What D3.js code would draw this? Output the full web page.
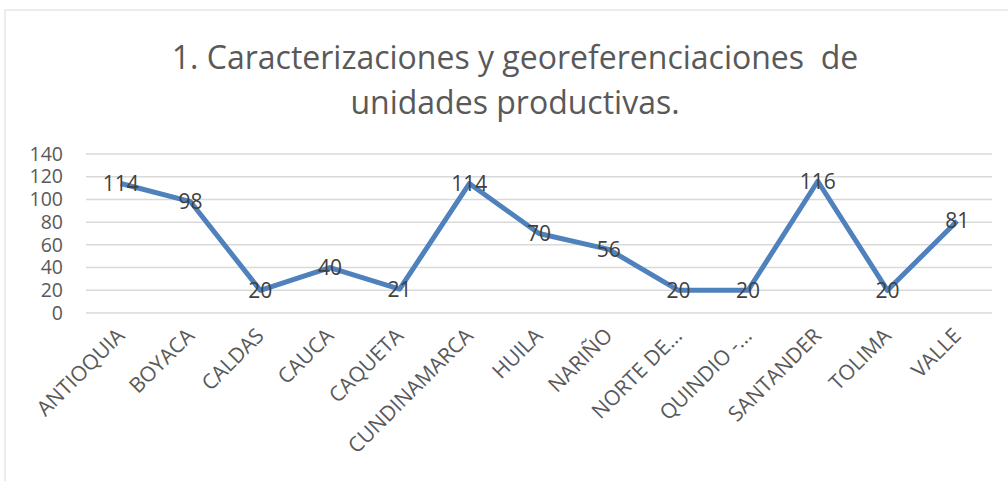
<!DOCTYPE html>
<html>
<head>
<meta charset="utf-8">
<script src="https://cdn.jsdelivr.net/npm/d3@7"></script>
<style>
  body { margin: 0; background: #fff; }
  svg { display: block; }
</style>
</head>
<body>
<svg id="chart" width="1008" height="481"></svg>
<script>
// departamentos y valores
var departamentos = ["ANTIOQUIA", "BOYACA", "CALDAS", "CAUCA", "CAQUETA", "CUNDINAMARCA",
    "HUILA", "NARIÑO", "NORTE DE...", "QUINDIO -...", "SANTANDER", "TOLIMA", "VALLE"];
var unidades = [114, 98, 20, 40, 21, 114, 70, 56, 20, 20, 116, 20, 81];
var yTicks = [0, 20, 40, 60, 80, 100, 120, 140];
var tituloLineas = ["1. Caracterizaciones y georeferenciaciones  de", "unidades productivas."];

var svg = d3.select("#chart"),
    margin = {left: 86, right: 16, top: 154, bottom: 168},
    width = 1008 - margin.left - margin.right,
    height = 481 - margin.top - margin.bottom;

// marco del grafico
svg.append("rect")
    .attr("x", 5).attr("y", 10)
    .attr("width", 1010).attr("height", 480)
    .attr("fill", "#fff")
    .attr("stroke", "#d9d9d9")
    .attr("stroke-width", 1);

svg.append("text")
    .attr("x", 515)
    .attr("y", 69)
    .attr("text-anchor", "middle")
    .attr("font-family", "'Open Sans', sans-serif")
    .attr("font-size", 32)
    .attr("fill", "#595959")
    .style("white-space", "pre")
    .selectAll("tspan")
    .data(tituloLineas)
    .enter().append("tspan")
    .attr("x", 515)
    .attr("dy", (d, i) => i ? 45 : 0)
    .text(d => d);

var g = svg.append("g").attr("transform", `translate(${margin.left},${margin.top})`);

var x = d3.scaleBand().domain(departamentos).range([0, width]),
    y = d3.scaleLinear().domain([0, 140]).range([height, 0]);

// grilla
g.selectAll(".grid")
    .data(yTicks)
    .enter().append("line")
    .attr("x1", 0).attr("x2", width)
    .attr("y1", d => y(d)).attr("y2", d => y(d))
    .attr("stroke", "#d9d9d9")
    .attr("stroke-width", 1.5);

var yAxis = g.append("g")
    .call(d3.axisLeft(y).tickValues(yTicks).tickSize(0).tickPadding(23));
yAxis.select(".domain").remove();
yAxis.selectAll("text")
    .attr("font-family", "'Open Sans', sans-serif")
    .attr("font-size", 19.5)
    .attr("fill", "#595959");

var xAxis = g.append("g")
    .attr("transform", `translate(0,${height})`)
    .call(d3.axisBottom(x).tickSize(0).tickPadding(0));
xAxis.select(".domain").remove();
xAxis.selectAll("text")
    .attr("font-family", "'Open Sans', sans-serif")
    .attr("font-size", 21)
    .attr("fill", "#595959")
    .attr("text-anchor", "end")
    .attr("dy", 0)
    .attr("transform", "translate(5,24) rotate(-45)");

var cx = d => x(d) + x.bandwidth() / 2;

var line = d3.line()
    .x((d, i) => cx(departamentos[i]))
    .y(d => y(d));

g.append("path")
    .datum(unidades)
    .attr("d", line)
    .attr("fill", "none")
    .attr("stroke", "#4f81bd")
    .attr("stroke-width", 5)
    .attr("stroke-linejoin", "round");

g.selectAll(".etiqueta")
    .data(unidades)
    .enter().append("text")
    .attr("x", (d, i) => cx(departamentos[i]))
    .attr("y", d => y(d))
    .attr("dy", "0.35em")
    .attr("text-anchor", "middle")
    .attr("font-family", "'Open Sans', sans-serif")
    .attr("font-size", 21)
    .attr("fill", "#404040")
    .text(d => d);
</script>
</body>
</html>
